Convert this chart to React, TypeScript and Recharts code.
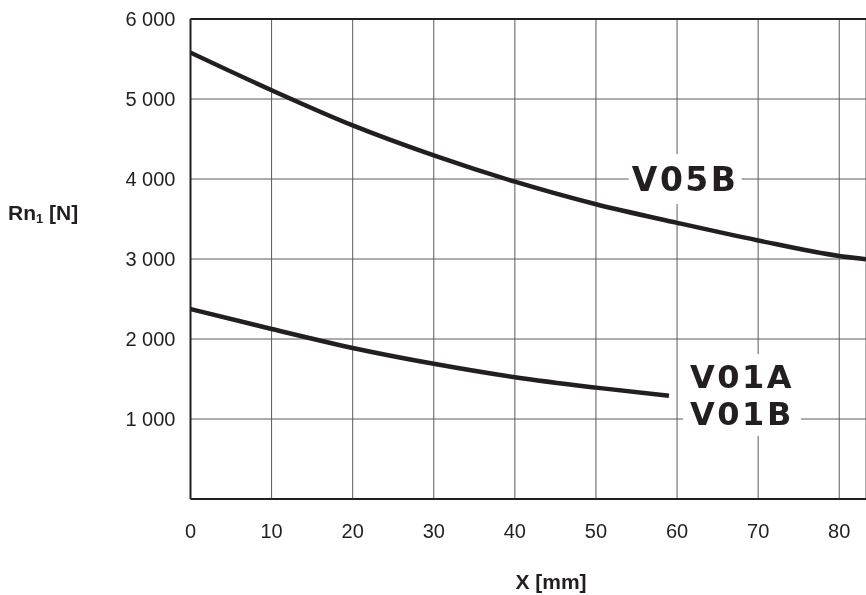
import React from 'react';
import {
  LineChart, Line, XAxis, YAxis, CartesianGrid, ReferenceLine, ReferenceDot, Label,
} from 'recharts';

// values
const xTicks = [0, 10, 20, 30, 40, 50, 60, 70, 80];
const yTicks = [1000, 2000, 3000, 4000, 5000, 6000];
const xMax = 83.3;

const v05bX = [0, 10, 20, 30, 40, 50, 60, 70, 80, 83.3];
const v05bY = [5580, 5110, 4670, 4295, 3966, 3684, 3452, 3232, 3038, 2998];

const v01X = [0, 10, 20, 30, 40, 50, 59];
const v01Y = [2375, 2125, 1888, 1690, 1522, 1392, 1290];

const v05b = v05bX.map((x, i) => ({ x, y: v05bY[i] }));
const v01 = v01X.map((x, i) => ({ x, y: v01Y[i] }));

const INK = '#231f20';
const FONT = '"Liberation Sans", Arial, Helvetica, sans-serif';
const BIG = '"DejaVu Sans", sans-serif';

const fmt = (v: number) => `${v / 1000} 000`;

// white box with heavy text, centered on the reference dot
const tag = (lines: string[], w: number, h: number, size: number, step: number) => (props: any) => {
  const { cx, cy } = props;
  const first = cy - ((lines.length - 1) * step) / 2;
  return (
    <g>
      <rect x={cx - w / 2} y={cy - h / 2} width={w} height={h} fill="#fff" />
      {lines.map((t, i) => (
        <text
          key={t}
          x={cx}
          y={first + i * step + size * 0.365}
          textAnchor="middle"
          fontFamily={BIG}
          fontWeight="bold"
          fontSize={size}
          letterSpacing={2.5}
          fill={INK}
        >
          {t}
        </text>
      ))}
    </g>
  );
};

const YTitle = () => (
  <text x={8} y={220} fontFamily={FONT} fontWeight="bold" fontSize={21} fill={INK}>
    Rn
    <tspan fontSize={13} dy={3}>1</tspan>
    <tspan dy={-3}> [N]</tspan>
  </text>
);

const XTitle = () => (
  <text x={551} y={589} textAnchor="middle" fontFamily={FONT} fontWeight="bold" fontSize={21} fill={INK}>
    X [mm]
  </text>
);

export default function App() {
  return (
    <div style={{ position: 'fixed', left: 0, top: 0 }}>
      <LineChart
        width={866}
        height={595}
        margin={{ top: 19, right: 0, left: 0, bottom: 0 }}
        style={{ fontFamily: FONT }}
      >
        <CartesianGrid stroke="#5a5a5a" strokeWidth={1} />
        <XAxis
          type="number"
          dataKey="x"
          domain={[0, xMax]}
          ticks={xTicks}
          allowDataOverflow
          height={96}
          tickLine={false}
          tickSize={0}
          tickMargin={25}
          axisLine={{ stroke: INK, strokeWidth: 2 }}
          tick={{ fill: INK, fontSize: 20, fontFamily: FONT }}
        >
          <Label content={<XTitle />} />
        </XAxis>
        <YAxis
          type="number"
          dataKey="y"
          domain={[0, 6000]}
          ticks={yTicks}
          width={190.5}
          tickLine={false}
          tickSize={0}
          tickMargin={15}
          tickFormatter={fmt}
          axisLine={{ stroke: INK, strokeWidth: 2 }}
          tick={{ fill: INK, fontSize: 20, fontFamily: FONT }}
        >
          <Label content={<YTitle />} />
        </YAxis>
        <ReferenceLine y={6000} stroke={INK} strokeWidth={2} />
        <Line
          data={v05b}
          dataKey="y"
          type="monotone"
          stroke={INK}
          strokeWidth={4.5}
          dot={false}
          activeDot={false}
          isAnimationActive={false}
        />
        <Line
          data={v01}
          dataKey="y"
          type="monotone"
          stroke={INK}
          strokeWidth={4.5}
          dot={false}
          activeDot={false}
          isAnimationActive={false}
        />
        <ReferenceDot x={61} y={4000} r={1} shape={tag(['V05B'], 113, 50, 33, 0)} />
        <ReferenceDot x={68} y={1300} r={1} shape={tag(['V01A', 'V01B'], 118, 82, 32, 37.5)} />
      </LineChart>
    </div>
  );
}
